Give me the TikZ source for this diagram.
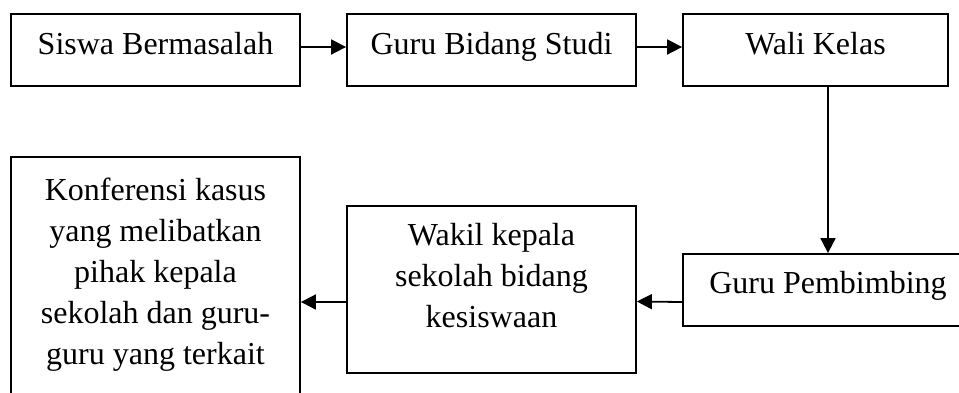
\documentclass[tikz,border=0pt]{standalone}
\usepackage{fontspec}
\setmainfont{Liberation Serif}
\usetikzlibrary{arrows.meta}
\begin{document}
\begin{tikzpicture}[x=1pt,y=-1pt,
  box/.style={draw=black, line width=1.8pt, rectangle, inner sep=0pt, fill=none},
  txt/.style={anchor=north, inner sep=0pt, align=center, font=\fontsize{32}{41}\selectfont},
  conn/.style={line width=1.8pt, -{Triangle[length=15pt,width=15pt]}}]
\clip (0,0) rectangle (959,392);
\useasboundingbox (0,0) rectangle (959,392);
% boxes
\node[box, minimum width=289pt, minimum height=72pt] (b1) at (155.5,50) {};
\node[box, minimum width=289pt, minimum height=72pt] (b2) at (491.5,50) {};
\node[box, minimum width=265pt, minimum height=72pt] (b3) at (815.5,50) {};
\node[box, minimum width=290pt, minimum height=72pt] (b4) at (828,290) {};
\node[box, minimum width=289pt, minimum height=167pt] (b5) at (491.5,289.5) {};
\node[box, minimum width=289pt, minimum height=245pt] (b6) at (155.5,279.5) {};
% texts
\node[txt] (t1) at (155.5,32) {Siswa Bermasalah};
\node[txt] (t2) at (491.5,32) {Guru Bidang Studi};
\node[txt] (t3) at (815.5,32) {Wali Kelas};
\node[txt] (t4) at (828,271) {Guru Pembimbing};
\node[txt] (t5) at (491.5,223) {Wakil kepala\\sekolah bidang\\kesiswaan};
\node[txt] (t6) at (155.5,178) {Konferensi kasus\\yang melibatkan\\pihak kepala\\sekolah dan guru-\\guru yang terkait};
% connectors
\draw[conn] ([yshift=3pt]b1.east) -- ([yshift=3pt]b2.west);
\draw[conn] ([yshift=3pt]b2.east) -- ([yshift=3pt]b3.west);
\draw[conn] ([xshift=12.5pt]b3.south) -- (b4.north);
\draw[conn] ([yshift=-12pt]b4.west) -- ([yshift=-12pt]b5.east);
\draw[conn] ([yshift=-12.5pt]b5.west) -- ([yshift=-12.5pt]b5.west -| b6.east);
\end{tikzpicture}
\end{document}
